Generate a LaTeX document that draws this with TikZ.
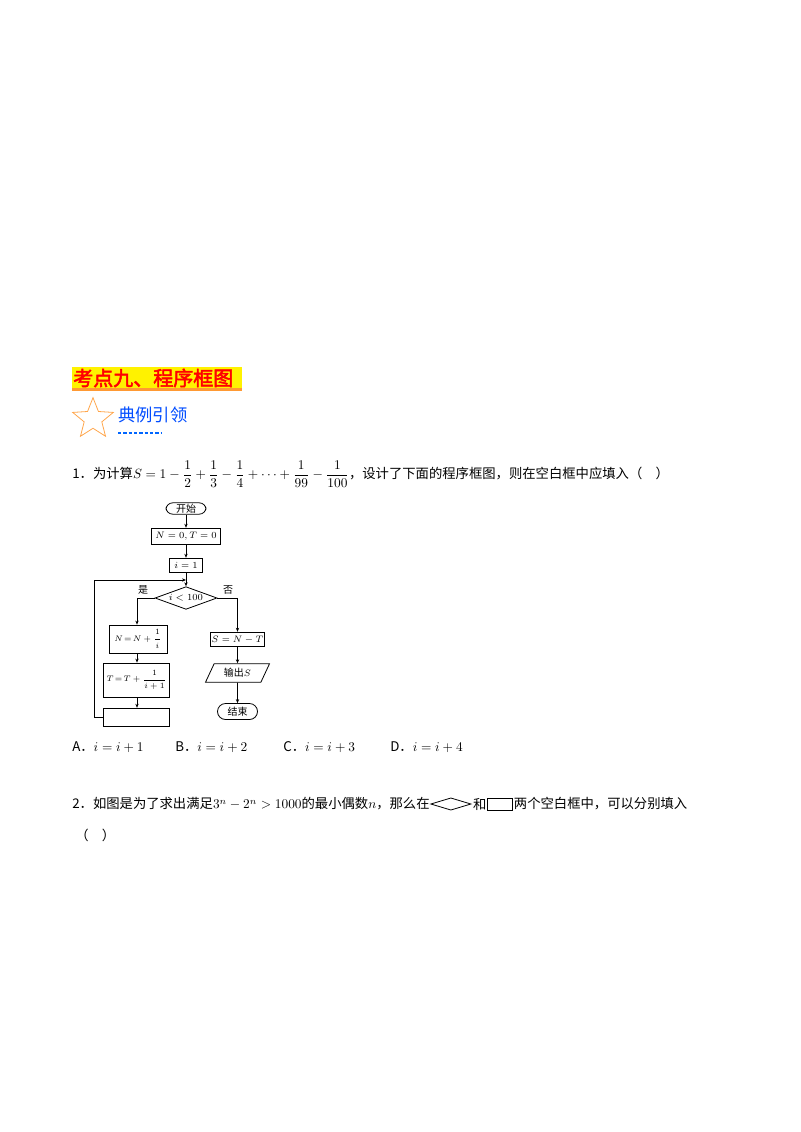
\documentclass[tikz,border=0pt]{standalone}
\usepackage{amsmath}
\usepackage{fontspec}
\setmainfont{Liberation Serif}
\newfontfamily\cjk{Noto Sans CJK SC}
\newfontfamily\cjkb[FakeBold=2.5]{Noto Sans CJK SC}
\usetikzlibrary{shapes.geometric,arrows.meta}
\begin{document}
\begin{tikzpicture}[x=0.75pt,y=-0.75pt,
  box/.style={draw,line width=0.6pt,inner sep=0pt,font=\fontsize{7}{8}\selectfont},
  term/.style={box,rounded corners=5pt},
  arr/.style={-{Stealth[length=3pt,width=2.5pt]},line width=0.6pt},
  ln/.style={line width=0.6pt},
  txt/.style={inner sep=0pt,font=\cjk\fontsize{10}{12}\selectfont}]
\useasboundingbox (0,0) rectangle (800,1132);
% title
\fill[yellow] (72,367) rectangle (242,390);
\fill[orange!80] (72,388) rectangle (242,391);
\node[inner sep=0pt,anchor=west,text=red,font=\cjkb\fontsize{15}{17}\selectfont] (title) at (73,378) {考点九、程序框图};
% star
\node[star,star points=5,star point ratio=2.3,draw=orange!70,line width=0.6pt,minimum size=32pt,inner sep=0pt] (star) at (93,419) {};
\node[inner sep=0pt,anchor=west,text=blue!70!cyan,font=\cjk\fontsize{13}{15}\selectfont] (sub) at (118,415) {典例引领};
\draw[blue!60!cyan,dash pattern=on 2.5pt off 1.5pt,line width=0.8pt] (118,433) -- (162,433);
% question 1
\node[txt,anchor=west] (q1) at (72,474) {1．为计算$S=1-\dfrac{1}{2}+\dfrac{1}{3}-\dfrac{1}{4}+\dots+\dfrac{1}{99}-\dfrac{1}{100}$，设计了下面的程序框图，则在空白框中应填入（\quad ）};
% flowchart
\node[term,minimum width=30pt,minimum height=8.5pt,font=\cjk\fontsize{7.5}{9}\selectfont] (start) at (186,508.5) {开始};
\node[box,minimum width=52pt,minimum height=12.5pt] (init) at (186,536.5) {$N=0,T=0$};
\node[box,minimum width=25pt,minimum height=11pt] (i1) at (186,565.5) {$i=1$};
\coordinate (join) at (186,580);
\node[diamond,draw,line width=0.6pt,aspect=2.7,inner sep=0pt,minimum width=46.5pt,minimum height=17pt,font=\fontsize{7}{8}\selectfont] (cond) at (186,598) {$i<100$};
\node[box,minimum width=43.5pt,minimum height=21pt,font=\fontsize{6.5}{7}\selectfont] (nb) at (138,639) {$N\!=\!N+\dfrac{1}{i}$};
\node[box,minimum width=49pt,minimum height=25.5pt,font=\fontsize{6.5}{7}\selectfont] (tb) at (136.5,680) {$T\!=\!T+\dfrac{1}{i+1}$};
\node[box,minimum width=49pt,minimum height=14pt] (blank) at (136.5,717.5) {};
\node[box,minimum width=41pt,minimum height=11pt] (sb) at (237.5,639.5) {$S=N-T$};
\node[trapezium,trapezium left angle=65,trapezium right angle=115,draw,line width=0.6pt,inner sep=1pt,minimum width=40pt,minimum height=14pt,font=\cjk\fontsize{7.5}{9}\selectfont] (out) at (237.5,673) {输出$S$};
\node[term,minimum width=30pt,minimum height=12pt,font=\cjk\fontsize{7.5}{9}\selectfont,rounded corners=6pt] (end) at (237.5,711.5) {结束};
\draw[arr] (start) -- (init);
\draw[arr] (init) -- (i1);
\draw[ln] (i1) -- (join);
\draw[arr] (join) -- (cond);
\draw[arr] (cond.west) -| (nb.north -| 137,0) ;
\draw[arr] (nb.south -| 137,0) -- (tb.north -| 137,0);
\draw[arr] (tb.south -| 137,0) -- (blank.north -| 137,0);
\draw[arr] (blank.west) -| (94,580) -- (join);
\draw[arr] (cond.east) -| (sb.north);
\draw[arr] (sb) -- (out);
\draw[arr] (out) -- (end);
\node[txt,font=\cjk\fontsize{7.5}{9}\selectfont] (yes) at (143,590) {是};
\node[txt,font=\cjk\fontsize{7.5}{9}\selectfont] (no) at (228,590) {否};
% options
\node[txt,anchor=west] (oa) at (72,747) {A．$i=i+1$};
\node[txt,anchor=west] (ob) at (175,747) {B．$i=i+2$};
\node[txt,anchor=west] (oc) at (283,747) {C．$i=i+3$};
\node[txt,anchor=west] (od) at (390,747) {D．$i=i+4$};
% question 2
\node[txt,anchor=west] (q2a) at (72,804) {2．如图是为了求出满足$3^n-2^n>1000$的最小偶数$n$，那么在};
\draw[line width=0.6pt] (q2a.east) ++(1,0) -- ++(20,-6) -- ++(20,6) -- ++(-20,6) -- cycle;
\node[txt,anchor=west] (q2b) at ([shift={(43,0)}]q2a.east) {和};
\draw[line width=0.6pt] (q2b.east) ++(1,-6) rectangle ++(25,12);
\node[txt,anchor=west] (q2c) at ([shift={(27,0)}]q2b.east) {两个空白框中，可以分别填入};
\node[txt,anchor=west] (q2d) at (75,835) {（\quad ）};
\end{tikzpicture}
\end{document}
